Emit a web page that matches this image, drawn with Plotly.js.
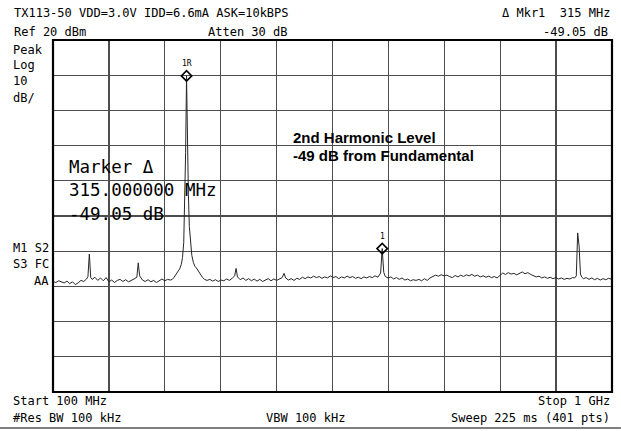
<!DOCTYPE html>
<html>
<head>
<meta charset="utf-8">
<script src="https://cdn.plot.ly/plotly-3.0.1.min.js"></script>
<style>
html,body{margin:0;padding:0;background:#fff;}
#chart{width:621px;height:431px;}
</style>
</head>
<body>
<div id="chart"></div>
<script>
// ---- data (frequency in MHz, level in dBm) ----
const freqMHz = [
  100, 104.5, 109, 113.5, 118, 122.5, 127, 131.5, 136, 140.5,
  145, 149.5, 154, 156.25, 158.5, 160.75, 163, 167.5, 172, 176.5,
  181, 185.5, 190, 194.5, 199, 203.5, 208, 212.5, 217, 221.5,
  226, 230.5, 235, 237.25, 239.5, 244, 248.5, 253, 257.5, 262,
  266.5, 271, 275.5, 280, 284.5, 289,
  292, 295, 298, 301, 304, 306.5, 308.5, 310.5, 312, 313.5,
  315, 316.5, 318, 319.5, 321.5, 323.5, 326, 328.5, 331, 334,
  337, 340.5, 344, 348, 352.5, 357, 361.5, 366, 370.5, 375,
  379.5, 384, 388.5, 392.5, 394.75, 397, 401.5, 406, 410.5, 415,
  419.5, 424, 428.5, 433, 437.5, 442, 446.5, 451, 455.5, 460,
  464.5, 469, 472, 474.5, 479, 483.5, 488, 492.5, 497, 501.5,
  506, 510.5, 515, 519.5, 524, 528.5, 533, 537.5, 542, 546.5,
  551, 555.5, 560, 564.5, 569, 573.5, 578, 582.5, 587, 591.5,
  596, 600.5, 605, 609.5, 614, 618.5, 623, 627.5, 630, 632.5,
  635, 639.5, 644, 648.5, 653, 657.5, 662, 666.5, 671, 675.5,
  680, 684.5, 689, 693.5, 698, 702.5, 707, 711.5, 716, 720.5,
  725, 729.5, 734, 738.5, 743, 747.5, 752, 756.5, 761, 765.5,
  770, 774.5, 779, 783.5, 788, 792.5, 797, 801.5, 806, 810.5,
  815, 819.5, 824, 828.5, 833, 837.5, 842, 846.5, 851, 855.5,
  860, 864.5, 869, 873.5, 878, 882.5, 887, 891.5, 896, 900.5,
  905, 909.5, 914, 918.5, 923, 927.5, 932, 936.5, 940, 942.5,
  944.75, 947, 949.25, 951.5, 954, 958.5, 963, 967.5, 972, 976.5,
  981, 985.5, 990, 994.5, 1000
];
const levelDbm = [
  -48.6, -48.9, -48.4, -48.8, -49.0, -48.5, -49.2, -48.7, -49.5, -49.0,
  -48.3, -48.6, -47.9, -47.2, -40.8, -47.5, -48.0, -47.4, -48.3, -47.6,
  -48.4, -47.5, -48.7, -48.2, -48.9, -48.3, -48.0, -48.6, -48.1, -48.7,
  -48.4, -47.9, -47.4, -43.3, -47.0, -48.2, -48.6, -48.1, -48.7, -48.3,
  -48.9, -48.5, -47.9, -48.4, -48.0, -48.2,
  -48.0, -47.4, -46.7, -46.0, -45.0, -43.8, -41.8, -37.5, -28.0, -12.0,
  9.8, -10.0, -24.0, -33.0, -38.5, -41.2, -43.2, -44.3, -44.8, -45.6,
  -46.6, -47.4, -48.0, -48.3, -48.0, -48.5, -48.1, -48.6, -48.2, -48.4,
  -47.9, -48.3, -47.7, -47.0, -44.9, -47.3, -48.1, -47.6, -48.3, -47.8,
  -48.4, -47.9, -48.5, -48.0, -48.6, -48.2, -47.8, -48.4, -47.9, -48.3,
  -48.0, -47.5, -46.3, -47.6, -48.2, -47.8, -48.3, -47.7, -48.0, -47.4,
  -47.8, -47.3, -47.6, -47.1, -47.5, -47.2, -47.7, -47.3, -47.6, -47.0,
  -47.5, -47.2, -47.8, -47.3, -47.6, -47.1, -47.5, -47.2, -47.7, -47.4,
  -47.8, -47.3, -47.6, -47.2, -47.5, -47.0, -47.4, -46.2, -39.25, -46.0,
  -47.2, -47.6, -47.3, -47.9, -47.5, -48.0, -47.6, -48.2, -47.9, -48.4,
  -48.1, -48.3, -48.0, -48.4, -47.8, -48.3, -47.6, -47.2, -46.8, -47.1,
  -46.7, -47.0, -46.8, -47.2, -47.5, -46.9, -47.3, -46.8, -47.2, -46.7,
  -47.0, -46.6, -47.1, -46.8, -47.3, -47.0, -47.4, -47.1, -47.5, -47.2,
  -47.6, -46.9, -46.2, -46.6, -46.1, -46.5, -46.3, -46.7, -46.4, -45.9,
  -46.4, -46.1, -46.6, -47.0, -47.3, -47.1, -47.6, -47.3, -47.7, -47.4,
  -47.8, -47.5, -47.9, -47.6, -48.0, -47.7, -47.9, -47.5, -47.6, -47.0,
  -34.8, -38.5, -46.5, -47.4, -47.8, -47.5, -48.0, -47.6, -48.1, -47.7,
  -48.2, -47.8, -48.1, -47.7, -48.0
];
const markerFreqMHz = [315, 630];
const markerLabels = ['1R', '1'];
const xGridMHz = [100, 190, 280, 370, 460, 550, 640, 730, 820, 910, 1000];
const yGridDbm = [20, 10, 0, -10, -20, -30, -40, -50, -60, -70, -80];

const titleLine = 'TX113-50 VDD=3.0V IDD=6.6mA ASK=10kBPS';
const refText = 'Ref 20 dBm';
const attenText = 'Atten 30 dB';
const mkrText = '\u0394 Mkr1  315 MHz';
const mkrDeltaText = '-49.05 dB';
const leftLabels = ['Peak', 'Log', '10', 'dB/'];
const statusLabels = ['M1 S2', 'S3 FC', 'AA'];
const startText = 'Start 100 MHz';
const stopText = 'Stop 1 GHz';
const rbwText = '#Res BW 100 kHz';
const vbwText = 'VBW 100 kHz';
const sweepText = 'Sweep 225 ms (401 pts)';
const markerBlock = ['Marker \u0394', '315.000000 MHz', '-49.05 dB'];
const noteLines = ['2nd Harmonic Level', '-49 dB from Fundamental'];

// ---- build ----
const mono = 'DejaVu Sans Mono, monospace';
const markerLevels = markerFreqMHz.map(f => levelDbm[freqMHz.indexOf(f)]);

const traces = [
  {
    type: 'scatter', mode: 'lines', x: freqMHz, y: levelDbm,
    line: {color: '#262626', width: 1}, hoverinfo: 'skip'
  },
  {
    type: 'scatter', mode: 'markers', x: markerFreqMHz, y: markerLevels,
    marker: {symbol: 'diamond-open', size: 8, color: '#000', line: {width: 1.6, color: '#000'}},
    hoverinfo: 'skip'
  }
];

function txt(text, x, y, anchor, size, extra) {
  return Object.assign({
    xref: 'paper', yref: 'paper', x: x, y: y, text: text, showarrow: false,
    xanchor: anchor, yanchor: 'middle', borderpad: 0,
    font: {family: mono, size: size || 12, color: '#000'}
  }, extra || {});
}

const annotations = [
  txt(titleLine, -0.0716, 1.0767, 'left'),
  txt(refText, -0.0716, 1.0241, 'left'),
  txt(attenText, 0.2755, 1.0241, 'left'),
  txt(mkrText, 0.9982, 1.0767, 'right'),
  txt(mkrDeltaText, 0.9946, 1.0241, 'right'),
  txt(leftLabels[0], -0.0733, 0.9724, 'left'),
  txt(leftLabels[1], -0.0733, 0.9276, 'left'),
  txt(leftLabels[2], -0.0733, 0.8835, 'left'),
  txt(leftLabels[3], -0.0733, 0.8366, 'left'),
  txt(statusLabels[0], -0.0054, 0.4077, 'right'),
  txt(statusLabels[1], -0.0054, 0.3648, 'right'),
  txt(statusLabels[2], -0.0054, 0.3153, 'right'),
  txt(startText, -0.0733, -0.0256, 'left'),
  txt(stopText, 0.9982, -0.0256, 'right'),
  txt(rbwText, -0.0733, -0.0739, 'left'),
  txt(vbwText, 0.3792, -0.0739, 'left'),
  txt(sweepText, 0.9982, -0.0739, 'right'),
  txt(markerBlock[0], 0.0268, 0.6406, 'left', 17.5),
  txt(markerBlock[1], 0.0268, 0.5739, 'left', 17.5),
  txt(markerBlock[2], 0.0268, 0.5071, 'left', 17.5),
  txt(noteLines[0], 0.4275, 0.723, 'left', 15, {font: {family: 'Liberation Sans, Arial, sans-serif', size: 15, color: '#000', weight: 'bold'}}),
  txt(noteLines[1], 0.4275, 0.6705, 'left', 15, {font: {family: 'Liberation Sans, Arial, sans-serif', size: 15, color: '#000', weight: 'bold'}})
];
markerFreqMHz.forEach((f, i) => {
  annotations.push({
    xref: 'x', yref: 'y', x: f, y: markerLevels[i], text: markerLabels[i],
    showarrow: false, yshift: 12, xanchor: 'center', yanchor: 'middle',
    font: {family: mono, size: 8, color: '#000'}
  });
});

const layout = {
  width: 621, height: 431,
  margin: {l: 53, r: 9, t: 40, b: 39, pad: 0},
  paper_bgcolor: '#fff', plot_bgcolor: '#fff',
  showlegend: false,
  xaxis: {
    range: [100, 1000], tickmode: 'array', tickvals: xGridMHz, showticklabels: false,
    ticks: '', showgrid: true, gridcolor: '#4d4d4d', gridwidth: 1.2, zeroline: false,
    showline: false, fixedrange: true
  },
  yaxis: {
    range: [-80, 20], tickmode: 'array', tickvals: yGridDbm, showticklabels: false,
    ticks: '', showgrid: true, gridcolor: '#4d4d4d', gridwidth: 1.2, zeroline: false,
    showline: false, fixedrange: true
  },
  shapes: [
    {type: 'rect', xref: 'paper', yref: 'paper', x0: 0.424, x1: 0.7675, y0: 0.568, y1: 0.787,
     fillcolor: '#fff', line: {width: 0}, layer: 'between'},
    {type: 'rect', xref: 'paper', yref: 'paper', x0: 0, x1: 1, y0: 0, y1: 1,
     line: {color: '#000', width: 2.2}, layer: 'above'},
    {type: 'line', xref: 'paper', yref: 'paper', x0: -0.0948, x1: 1.016, y0: -0.1023, y1: -0.1023,
     line: {color: '#000', width: 1}}
  ],
  annotations: annotations
};

Plotly.newPlot('chart', traces, layout, {displayModeBar: false, staticPlot: true});
</script>
</body>
</html>
